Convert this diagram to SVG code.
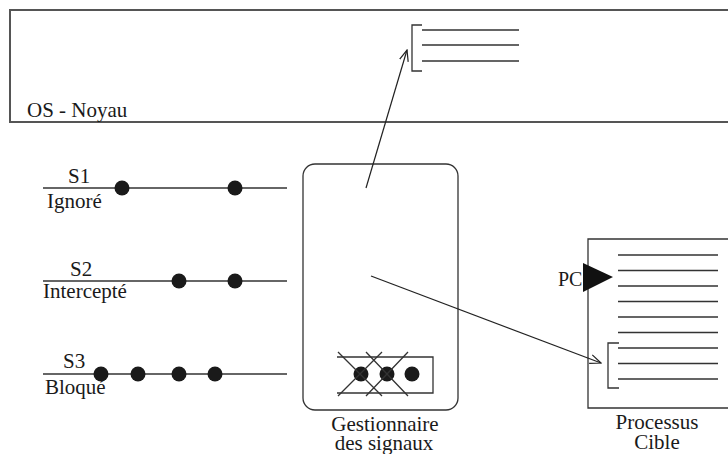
<svg xmlns="http://www.w3.org/2000/svg" width="728" height="454" viewBox="0 0 728 454" font-family="'Liberation Serif', 'DejaVu Serif', serif">
  <defs>
    <marker id="open" viewBox="0 0 12 10" refX="11" refY="5" markerWidth="12" markerHeight="10" markerUnits="userSpaceOnUse" orient="auto">
      <path d="M0,0.5 L11,5 L0,9.5" fill="none" stroke="#222" stroke-width="1.2"/>
    </marker>
  </defs>
  <style>
    text { font-family: 'Liberation Serif', 'DejaVu Serif', serif; font-size: 21px; fill: #1a1a1a; }
    .frame { fill: none; stroke: #555; stroke-width: 2; }
    .ln { fill: none; stroke: #333; stroke-width: 1.3; }
    .dot { fill: #1a1a1a; }
    .conn { fill: none; stroke: #222; stroke-width: 1.2; marker-end: url(#open); }
  </style>
  <rect width="728" height="454" fill="#fff"/>

  <!-- kernel area, open on the right -->
  <g id="os-noyau">
    <path class="frame" d="M728,10 H10 V122 H728"/>
    <text x="27" y="117">OS - Noyau</text>
    <g id="handler-table">
      <path class="ln" d="M422,25 H412 V71 H422"/>
      <path class="ln" d="M422,30 H519 M422,45 H519 M422,61 H519"/>
    </g>
  </g>

  <!-- signal lines -->
  <g id="signal-s1">
    <line class="ln" x1="43" y1="188" x2="287" y2="188"/>
    <circle class="dot" cx="122" cy="188" r="7.5"/>
    <circle class="dot" cx="235" cy="188" r="7.5"/>
    <text x="68" y="183">S1</text>
    <text x="47" y="208">Ignoré</text>
  </g>
  <g id="signal-s2">
    <line class="ln" x1="43" y1="281" x2="287" y2="281"/>
    <circle class="dot" cx="179" cy="281" r="7.5"/>
    <circle class="dot" cx="235" cy="281" r="7.5"/>
    <text x="70" y="276">S2</text>
    <text x="43" y="298">Intercepté</text>
  </g>
  <g id="signal-s3">
    <line class="ln" x1="43" y1="374" x2="287" y2="374"/>
    <circle class="dot" cx="101" cy="374" r="7.5"/>
    <circle class="dot" cx="138" cy="374" r="7.5"/>
    <circle class="dot" cx="179" cy="374" r="7.5"/>
    <circle class="dot" cx="215" cy="374" r="7.5"/>
    <text x="63" y="368">S3</text>
    <text x="45" y="394">Bloqué</text>
  </g>

  <!-- signal manager -->
  <g id="gestionnaire">
    <rect class="ln" x="303" y="164" width="155" height="246" rx="12" ry="12"/>
    <path class="ln" d="M337,357 H433 V393 H337"/>
    <circle class="dot" cx="361" cy="374" r="7.5"/>
    <circle class="dot" cx="387" cy="374" r="7.5"/>
    <circle class="dot" cx="412" cy="374" r="7.5"/>
    <path class="ln" d="M338,352 L382,396 M382,352 L338,396 M366,352 L408,396 M408,352 L366,396"/>
    <text x="385" y="431" text-anchor="middle">Gestionnaire</text>
    <text x="384" y="450" text-anchor="middle">des signaux</text>
  </g>

  <!-- target process, open on the right -->
  <g id="processus-cible">
    <path class="ln" d="M728,239 H588 V408 H728"/>
    <path class="ln" d="M618,255 H718 M618,270.5 H718 M618,286 H718 M618,301.5 H718 M618,317 H718 M618,332.5 H718 M618,348 H718 M618,363.5 H718 M618,379 H718"/>
    <path class="ln" d="M619,343 H608 V388 H619"/>
    <polygon points="583,263 613,277 583,292" fill="#111"/>
    <text x="558" y="286" style="font-size:20px">PC</text>
    <text x="657" y="429" text-anchor="middle">Processus</text>
    <text x="657" y="449" text-anchor="middle">Cible</text>
  </g>

  <g id="connectors">
    <line class="conn" x1="366" y1="188" x2="407" y2="50"/>
    <line class="conn" x1="371" y1="276" x2="601" y2="363"/>
  </g>
</svg>
